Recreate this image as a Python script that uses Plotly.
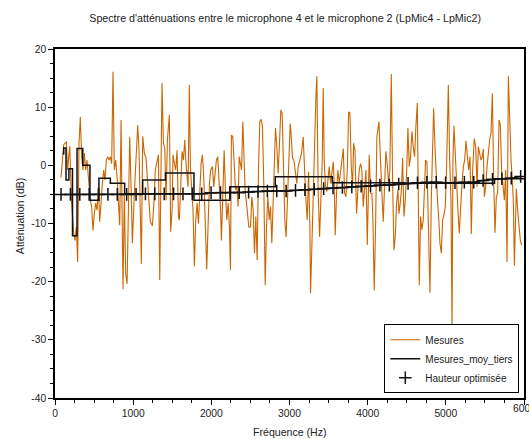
import plotly.graph_objects as go

# ---- Data ----
freq_mes = [77, 111, 145, 162, 188, 213, 239, 256, 273, 290, 307, 324, 341, 358, 375, 392, 409, 427,
            452, 469, 486, 503, 520, 538, 555, 572, 589, 606, 623, 640, 657, 674, 691, 708, 725, 742,
            759, 777, 794, 811, 828, 845, 862, 870, 887, 904, 922, 939, 956, 973, 990,
            1015, 1041, 1058, 1075, 1092, 1105, 1122, 1143, 1165, 1186, 1203, 1220, 1246, 1263, 1284,
            1305, 1323, 1340, 1352, 1369, 1387, 1404, 1421, 1438, 1463, 1480, 1498, 1510, 1527, 1544,
            1562, 1579, 1591, 1608, 1626, 1643, 1660, 1673, 1690, 1702, 1719, 1732, 1749, 1766, 1783,
            1801, 1818, 1835, 1852, 1869, 1886, 1903, 1924, 1941, 1958, 1976, 1993, 2014,
            2031, 2048, 2065, 2082, 2100, 2117, 2129, 2147, 2164, 2181, 2198, 2215, 2232, 2245, 2257,
            2275, 2292, 2309, 2326, 2343, 2356, 2373, 2386, 2403, 2420, 2432, 2450, 2467, 2479, 2501,
            2518, 2535, 2552, 2569, 2586, 2603, 2620, 2637, 2654, 2671, 2689, 2706, 2723, 2740, 2757,
            2774, 2791, 2804, 2821, 2838, 2855, 2872, 2889, 2906, 2923, 2940, 2957, 2975, 2992, 3009,
            3017, 3039, 3056, 3077, 3094, 3111, 3133, 3154, 3175, 3197, 3210, 3227, 3244, 3261, 3269,
            3286, 3303, 3320, 3338, 3350, 3367, 3385, 3402, 3419, 3431, 3444, 3461, 3478, 3495, 3508,
            3525, 3542, 3560, 3572, 3585, 3602, 3619, 3636, 3653, 3670, 3688, 3705, 3722, 3739, 3756,
            3773, 3790, 3807, 3820, 3837, 3850, 3858, 3875, 3892, 3909, 3926, 3944, 3961, 3978, 3995,
            4007, 4020, 4037, 4054, 4067, 4084, 4101, 4118, 4144, 4161, 4182, 4199, 4216, 4233, 4250,
            4267, 4284, 4302, 4319, 4336, 4353, 4370, 4387, 4400, 4417, 4434, 4447, 4464, 4481, 4498,
            4515, 4532, 4549, 4566, 4583, 4600, 4617, 4635, 4647, 4660, 4677, 4694, 4711, 4728, 4741,
            4758, 4771, 4784, 4797, 4814, 4831, 4844, 4861, 4878, 4895, 4908, 4925, 4942, 4959, 4976,
            4993, 5010, 5032, 5049, 5066, 5079, 5091, 5104, 5121, 5138, 5155, 5172, 5189, 5207, 5224,
            5241, 5258, 5275, 5292, 5309, 5326, 5343, 5364, 5382, 5399, 5416, 5433, 5450, 5467, 5480,
            5493, 5510, 5527, 5544, 5561, 5578, 5595, 5612, 5629, 5646, 5663, 5680, 5697, 5714, 5732,
            5749, 5766, 5783, 5800, 5817, 5834, 5851, 5864, 5877, 5889, 5902, 5919, 5936, 5953, 5970]
val_mes = [-2.1, 3.5, 4.1, -0.8, 3.3, -6.5, -11.7, -12.9, -10.6, -16.6, 3.8, 8.3, 1.5, -0.8, 2.1, -0.8, 0.9, -2.0,
           -6.0, -7.1, -11.2, -8.3, -6.5, -7.7, -3.7, -9.7, -6.0, -3.1, -0.8, -2.5, 0.9, 1.5, 0.9, 1.5, 0.3, 16.1,
           -0.8, 0.9, -2.0, -7.7, -10.3, 7.8, -10.6, -21.3, -4.8, -18.6, -20.4, -6.0, 4.9, -3.7, -13.4,
           -4.8, 3.2, 6.9, 2.6, -6.0, -16.9, 5.0, 2.1, 1.2, -3.7, -6.5, -9.7, -10.4, -7.1, -0.8,
           0.9, 1.8, -19.7, -4.8, 14.1, 3.8, 2.9, -6.0, 4.4, 8.7, -11.4, -7.7, 1.8, 0.3, -0.8,
           2.6, -8.8, -9.4, -4.8, 2.4, 0.9, 4.4, 0.9, -3.1, -3.7, 13.8, -0.2, -4.2, -7.7, -17.4,
           -9.4, -6.5, -10.0, -4.8, 0.3, 1.8, -2.0, -10.6, -17.9, -10.6, -3.1, -0.8, -0.2,
           -3.7, -0.8, 0.9, 1.5, -2.5, -7.1, -12.9, -4.8, 2.6, -4.8, -9.4, -6.5, -10.6, -18.0, 5.2,
           4.9, -0.2, -4.2, -3.7, -7.1, 1.5, 0.3, -0.8, 7.5, 0.9, -4.2, -6.5, -9.4, -10.6, -10.6,
           -5.4, -7.7, -15.1, -8.8, -16.3, -0.8, 7.5, 7.9, 6.7, -3.1, -20.6, -10.6, -5.4, -9.4, -7.1,
           -13.4, -4.8, 0.9, 6.4, 3.2, -1.4, 3.8, 9.5, 9.0, 0.9, -9.4, -12.3, -4.8, 3.8, 7.2,
           6.1, 1.2, 0.9, -1.4, -3.1, -0.2, 1.2, 2.1, 4.9, -3.7, -6.0, -9.4, -1.1, -10.6, -22.0,
           -14.0, -4.8, 3.8, 11.8, 15.3, -4.8, -12.3, -6.0, 0.9, 13.3, 0.9, -3.7, -4.5, -2.0, -0.2,
           -3.1, -0.8, 0.6, -3.1, -12.0, -4.8, -0.8, -3.1, -1.4, 0.9, 2.9, -4.8, -5.4, -0.8, 9.2,
           9.0, -0.2, -3.7, 3.8, 2.6, -4.8, -8.3, -4.2, -0.8, 0.3, -0.8, -7.1, -3.7, -0.8, -13.7,
           -3.7, 1.8, -4.8, -4.8, -9.4, -21.5, -10.6, 4.9, 7.5, 0.9, -4.8, -9.7, -2.0, 2.4, 0.3,
           -3.1, -0.8, 15.7, -2.5, -14.6, -12.3, -6.5, -4.2, -8.3, -6.5, -3.7, 1.3, -8.8, -6.0, -1.4,
           6.4, -0.2, 1.5, 5.8, 3.2, 1.5, 6.7, 10.7, -4.8, -20.6, -8.8, -11.1, -9.4, -3.7, 0.9,
           0.6, -6.0, -13.7, -21.9, -6.0, 3.2, 9.8, 3.2, -2.5, -6.5, -8.8, -13.4, -15.1, -9.4, -8.5,
           -7.1, -0.2, 13.8, 0.9, -6.0, -28.1, 0.9, 6.8, 0.9, -4.8, -7.7, -11.7, -6.5, -3.1, -0.2,
           0.9, 4.2, 0.9, -0.8, 1.5, -11.8, -0.8, 4.6, 3.2, -3.7, 3.2, 2.1, 0.9, 1.5, 2.8,
           -5.4, -3.7, -0.2, 2.6, 4.4, 5.5, 12.4, -2.5, -11.6, -5.4, -4.8, 7.8, 6.9, -0.8, -3.1,
           -6.0, -0.8, -16.6, 15.3, 6.7, 0.9, -2.5, -6.5, -17.2, -10.6, -4.0, -7.7, -11.1, -12.9, -13.7]

# third-octave band averages (band start frequency, value)
freq_tiers = [97, 112, 141, 178, 224, 282, 355, 447, 562, 708, 891, 1122, 1413, 1778,
              2239, 2818, 3548, 4467, 5623, 6000]
val_tiers = [2.0, 3.0, -2.5, -0.6, -12.1, 2.9, 0.0, -6.0, -2.2, -3.1, -4.9, -2.5, -1.3, -6.0,
             -3.7, -1.95, -3.0, -3.1, -2.3, -2.3]

freq_haut = [77, 197, 317, 437, 557, 677, 797, 917, 1037, 1157, 1277, 1397, 1517, 1637, 1757,
             1877, 1997, 2117, 2237, 2357, 2477, 2597, 2717, 2837, 2957, 3077, 3197, 3317, 3437,
             3557, 3677, 3797, 3917, 4037, 4157, 4277, 4397, 4517, 4637, 4757, 4877, 4997, 5117,
             5237, 5357, 5477, 5597, 5717, 5837, 5957]
val_haut = [-5.0, -5.0, -5.0, -5.0, -5.0, -5.0, -5.0, -5.0, -5.0, -4.9, -4.9, -4.9, -4.9, -4.9, -4.9,
            -4.9, -4.7, -4.7, -4.7, -4.7, -4.6, -4.5, -4.4, -4.4, -4.4, -4.3, -4.2, -4.1, -4.0,
            -3.9, -3.8, -3.7, -3.6, -3.5, -3.4, -3.4, -3.2, -3.1, -3.0, -2.9, -2.9, -3.0, -3.0,
            -2.9, -2.9, -2.6, -2.4, -2.3, -2.2, -1.9]

x_ticks = [0, 1000, 2000, 3000, 4000, 5000]
x_last_tick = 6000
y_ticks = [-40, -30, -20, -10, 0, 10, 20]

FONT = "Liberation Sans, Arial, sans-serif"
TXT = "#222222"

fig = go.Figure()
fig.add_trace(go.Scatter(x=freq_mes, y=val_mes, mode="lines", name="Mesures",
                         line=dict(color="rgb(204,102,0)", width=1.1)))
fig.add_trace(go.Scatter(x=freq_tiers, y=val_tiers, mode="lines", name="Mesures_moy_tiers",
                         line=dict(color="#111111", width=1.5, shape="hv")))
fig.add_trace(go.Scatter(x=freq_haut, y=val_haut, mode="lines", showlegend=False,
                         line=dict(color="#111111", width=1.5), hoverinfo="skip"))
fig.add_trace(go.Scatter(x=freq_haut, y=val_haut, mode="markers", name="Hauteur optimisée",
                         marker=dict(symbol="cross-thin", size=9, color="#111111",
                                     line=dict(color="#111111", width=1.5))))

axis_common = dict(showgrid=False, zeroline=False, showline=True, linecolor="black", linewidth=1.5,
                   mirror=True, ticks="outside", ticklen=5, tickwidth=1.2, tickcolor="black",
                   tickfont=dict(family=FONT, size=10.3, color=TXT), automargin=False)

fig.update_xaxes(range=[0, 6000], tickvals=x_ticks + [x_last_tick],
                 ticktext=[str(v) for v in x_ticks] + [""],
                 minor=dict(dtick=250, ticklen=3, ticks="outside", tickcolor="black", tickwidth=1),
                 **axis_common)
fig.update_yaxes(range=[-40, 20], tickvals=y_ticks, ticktext=[str(v) for v in y_ticks],
                 minor=dict(dtick=2.5, ticklen=3, ticks="outside", tickcolor="black", tickwidth=1),
                 **axis_common)

fig.update_layout(
    width=529, height=439,
    margin=dict(l=55, r=5, t=49, b=41),
    paper_bgcolor="white", plot_bgcolor="white",
    font=dict(family=FONT, size=10, color=TXT),
    title=dict(text="Spectre d'atténuations entre le microphone 4 et le microphone 2 (LpMic4 - LpMic2)",
               x=0.539, xanchor="center", y=1 - 18 / 439, yanchor="middle",
               font=dict(family=FONT, size=10.7, color=TXT)),
    legend=dict(x=0.99, y=0.0135, xanchor="right", yanchor="bottom", bgcolor="white",
                bordercolor="black", borderwidth=1, font=dict(family=FONT, size=10, color=TXT),
                tracegroupgap=0),
    showlegend=True,
    annotations=[
        dict(text=str(x_last_tick), xref="x", yref="paper", x=x_last_tick, y=-0.0315,
             xanchor="center", yanchor="middle", showarrow=False,
             font=dict(family=FONT, size=10.3, color=TXT)),
        dict(text="Fréquence (Hz)", xref="paper", yref="paper", x=0.501, y=-0.0974,
             xanchor="center", yanchor="middle", showarrow=False,
             font=dict(family=FONT, size=10.6, color=TXT)),
        dict(text="Atténuation (dB)", xref="paper", yref="paper", x=-0.0746, y=0.521,
             xanchor="center", yanchor="middle", showarrow=False, textangle=-90,
             font=dict(family=FONT, size=10.6, color=TXT)),
    ],
)

fig.write_html("out.html")
